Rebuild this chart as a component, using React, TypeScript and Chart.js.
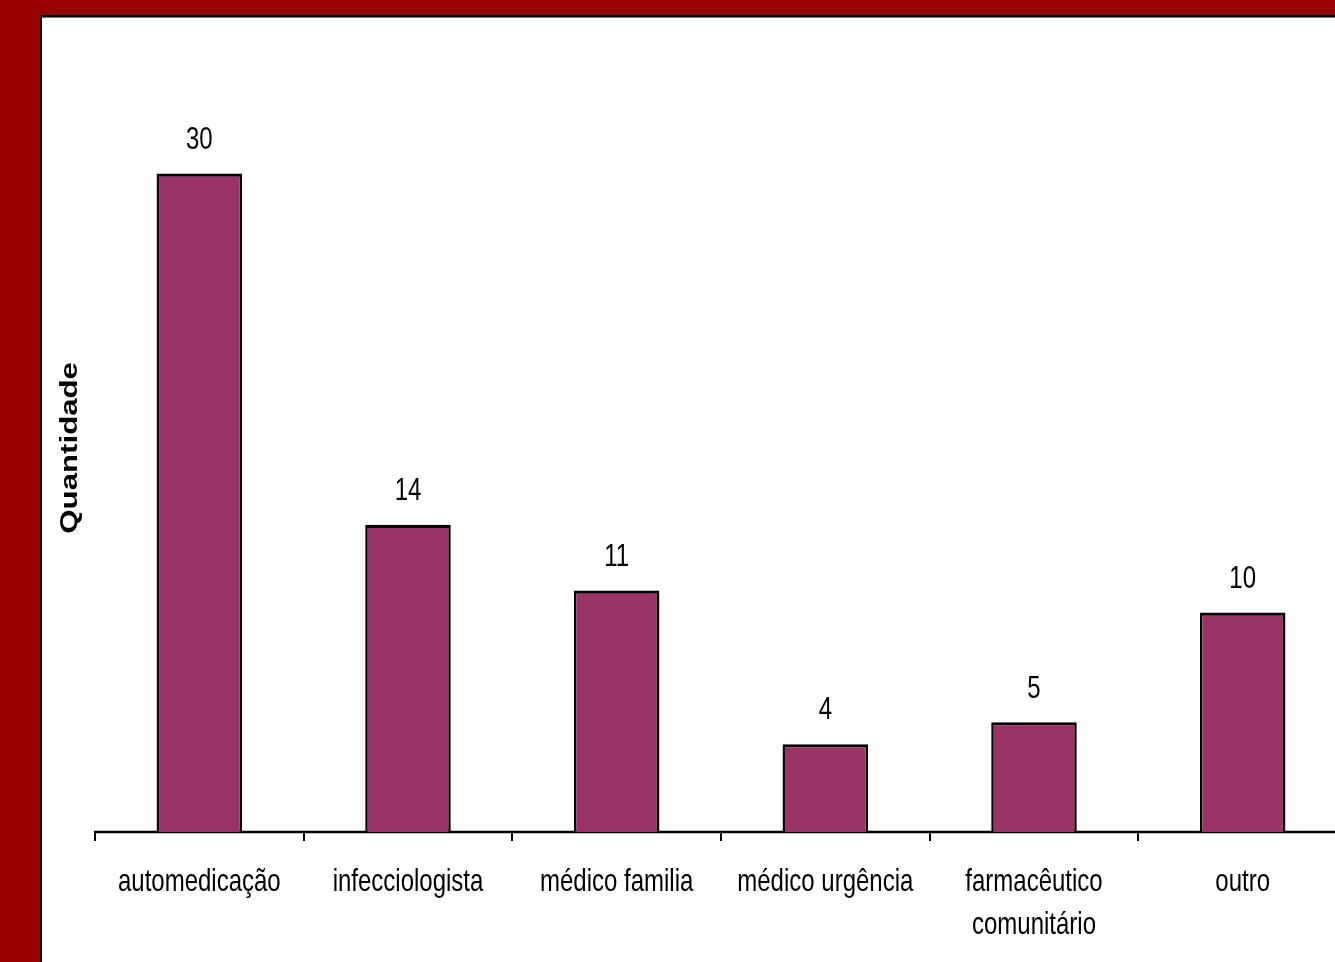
import React, { useEffect, useRef } from "react";
import { Chart, registerables } from "chart.js";

Chart.register(...registerables);

// ---- data ----
const categories: (string | string[])[] = [
  "automedicação",
  "infecciologista",
  "médico familia",
  "médico urgência",
  ["farmacêutico", "comunitário"],
  "outro",
];
const quantities = [30, 14, 11, 4, 5, 10];
const yTitle = "Quantidade";
const yMin = 0;
const yMax = 35;

// ---- layout constants ----
const LOGICAL_W = 1400;
const LOGICAL_H = 740;
const SCREEN_H = 962;
const SY = SCREEN_H / LOGICAL_H;
const FAMILY = "'Liberation Sans', Arial, sans-serif";

const stretchPlugin = {
  id: "stretch",
  afterInit(chart: any) {
    const c = chart.canvas as HTMLCanvasElement;
    c.height = SCREEN_H;
    c.width = LOGICAL_W;
    c.style.width = LOGICAL_W + "px";
    c.style.height = SCREEN_H + "px";
  },
  beforeDraw(chart: any) {
    const ctx = chart.ctx as CanvasRenderingContext2D;
    ctx.setTransform(1, 0, 0, SY, 0, 0);
    ctx.save();
    ctx.fillStyle = "#990000";
    ctx.fillRect(0, 0, LOGICAL_W, LOGICAL_H + 20);
    ctx.fillStyle = "#ffffff";
    ctx.fillRect(41, 12.5, LOGICAL_W + 100, LOGICAL_H + 100);
    ctx.strokeStyle = "#000000";
    ctx.lineWidth = 2;
    ctx.strokeRect(41, 12.5, LOGICAL_W + 100, LOGICAL_H + 100);
    ctx.restore();
  },
};

const valueLabelPlugin = {
  id: "valueLabels",
  afterDatasetsDraw(chart: any) {
    const ctx = chart.ctx as CanvasRenderingContext2D;
    const meta = chart.getDatasetMeta(0);
    const values = chart.data.datasets[0].data as number[];
    ctx.save();
    ctx.fillStyle = "#000000";
    ctx.font = `24px ${FAMILY}`;
    ctx.textAlign = "center";
    ctx.textBaseline = "alphabetic";
    meta.data.forEach((bar: any, i: number) => {
      ctx.fillText(String(values[i]), bar.x, bar.y - 19);
    });
    ctx.restore();
  },
};

export default function App() {
  const ref = useRef<HTMLCanvasElement | null>(null);

  useEffect(() => {
    const canvas = ref.current;
    if (!canvas) return;
    canvas.width = LOGICAL_W;
    canvas.height = LOGICAL_H;
    const chart = new Chart(canvas, {
      type: "bar",
      data: {
        labels: categories,
        datasets: [
          {
            data: quantities,
            backgroundColor: "#993366",
            borderColor: "#000000",
            borderWidth: 2.5,
            barPercentage: 0.41,
            categoryPercentage: 1,
          },
        ],
      },
      options: {
        responsive: false,
        animation: false,
        devicePixelRatio: 1,
        layout: { padding: { left: 0, right: 53, top: 49, bottom: 0 } },
        plugins: {
          legend: { display: false },
          tooltip: { enabled: false },
        },
        scales: {
          x: {
            grid: {
              display: true,
              drawOnChartArea: false,
              drawTicks: true,
              tickLength: 7,
              color: "#000000",
              lineWidth: 2,
              offset: true,
            },
            border: { display: true, color: "#000000", width: 2 },
            ticks: {
              color: "#000000",
              font: { family: FAMILY, size: 24, lineHeight: 1.375 },
              padding: 15,
              maxRotation: 0,
              minRotation: 0,
              autoSkip: false,
            },
            afterFit: (s: any) => {
              s.height = 100;
            },
          },
          y: {
            min: yMin,
            max: yMax,
            ticks: { display: false },
            grid: { display: false, drawTicks: false },
            border: { display: false },
            title: {
              display: true,
              text: yTitle,
              color: "#000000",
              font: { family: FAMILY, size: 24, weight: "bold" },
              padding: { top: 56, bottom: 0 },
            },
            afterFit: (s: any) => {
              s.width = 95;
            },
          },
        },
      } as any,
      plugins: [stretchPlugin, valueLabelPlugin],
    });
    return () => chart.destroy();
  }, []);

  return (
    <div
      style={{
        position: "fixed",
        left: 0,
        top: 0,
        width: 1335,
        height: 962,
        overflow: "hidden",
        background: "#990000",
      }}
    >
      <canvas ref={ref} width={LOGICAL_W} height={LOGICAL_H} />
    </div>
  );
}
